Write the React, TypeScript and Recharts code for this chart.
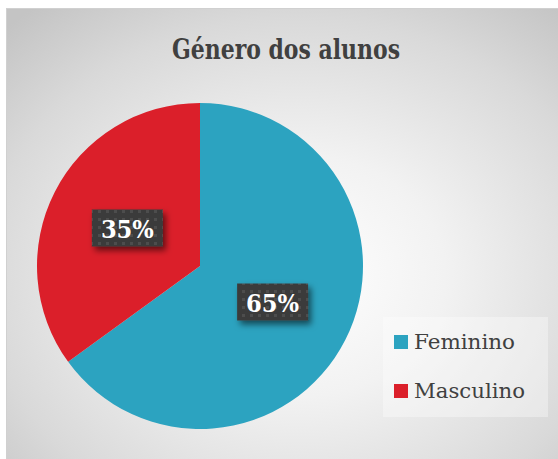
import { PieChart, Pie, Cell, Legend } from "recharts";

const categories = ["Feminino", "Masculino"];
const shares = [65, 35];
const colors = ["#2ca3c0", "#db1f2a"];
const legendWidths = [101, 111];

const data = categories.map((name, i) => ({ name, value: shares[i] }));

const RADIAN = Math.PI / 180;
const SERIF = "DejaVu Serif";

const renderLabel = (props: any) => {
  const { cx, cy, midAngle, outerRadius, percent } = props;
  const r = outerRadius * 0.5;
  const x = cx + r * Math.cos(-midAngle * RADIAN);
  const y = cy + r * Math.sin(-midAngle * RADIAN) - 1;
  const w = 71;
  const h = 37;
  return (
    <g>
      <rect
        x={x - w / 2}
        y={y - h / 2}
        width={w}
        height={h}
        fill="url(#dots)"
        filter="url(#boxShadow)"
      />
      <text
        x={x}
        y={y + 10}
        textAnchor="middle"
        fill="#ffffff"
        fontFamily={SERIF}
        fontWeight="bold"
        fontSize={24}
        textLength={53}
        lengthAdjust="spacingAndGlyphs"
      >
        {`${Math.round(percent * 100)}%`}
      </text>
    </g>
  );
};

const renderLegend = (props: any) => {
  const { payload } = props;
  return (
    <svg width={165} height={100}>
      {payload.map((item: any, i: number) => (
        <g key={i} transform={`translate(0, ${i * 49})`}>
          <rect x={11} y={18} width={14} height={14} fill={item.color} />
          <text
            x={31}
            y={32}
            fill="#404040"
            fontFamily={SERIF}
            fontSize={21}
            textLength={legendWidths[i]}
            lengthAdjust="spacingAndGlyphs"
          >
            {item.value}
          </text>
        </g>
      ))}
    </svg>
  );
};

export default function App() {
  return (
    <div
      style={{
        position: "absolute",
        left: 0,
        top: 0,
        width: 558,
        height: 459,
        background: "#ffffff",
        overflow: "hidden",
      }}
    >
      <svg width={0} height={0} style={{ position: "absolute" }}>
        <defs>
          <pattern id="dots" width="8" height="8" patternUnits="userSpaceOnUse">
            <rect width="8" height="8" fill="#3b3b3b" />
            <rect x="2" y="2" width="3" height="3" fill="#4e4e4e" />
          </pattern>
          <filter id="boxShadow" x="-20%" y="-30%" width="150%" height="180%">
            <feDropShadow dx="3" dy="4" stdDeviation="3" floodColor="#000" floodOpacity="0.55" />
          </filter>
        </defs>
      </svg>
      <div
        style={{
          position: "absolute",
          left: 6,
          top: 8,
          width: 560,
          height: 460,
          border: "1px solid #d0d0d0",
          background:
            "radial-gradient(ellipse 75% 75% at 52% 58%, #ffffff 0%, #f2f2f2 35%, #d9d9d9 75%, #c4c4c4 100%)",
        }}
      />
      <svg width={558} height={80} style={{ position: "absolute", left: 0, top: 0 }}>
        <text
          x={172}
          y={59}
          fill="#404040"
          fontFamily={SERIF}
          fontWeight="bold"
          fontSize={28}
          textLength={228}
          lengthAdjust="spacingAndGlyphs"
        >
          Género dos alunos
        </text>
      </svg>
      <div
        style={{
          position: "absolute",
          left: 383,
          top: 317,
          width: 165,
          height: 100,
          background: "rgba(255,255,255,0.35)",
        }}
      />
      <div style={{ position: "absolute", left: 0, top: 0 }}>
        <PieChart width={558} height={459} margin={{ top: 0, right: 0, bottom: 0, left: 0 }}>
          <Pie
            data={data}
            dataKey="value"
            nameKey="name"
            cx={200}
            cy={266}
            outerRadius={163}
            startAngle={90}
            endAngle={-270}
            stroke="none"
            label={renderLabel}
            labelLine={false}
            isAnimationActive={false}
          >
            {data.map((d, i) => (
              <Cell key={d.name} fill={colors[i]} />
            ))}
          </Pie>
          <Legend
            content={renderLegend}
            layout="vertical"
            wrapperStyle={{ position: "absolute", left: 383, top: 317, width: 165, height: 100 }}
          />
        </PieChart>
      </div>
    </div>
  );
}
